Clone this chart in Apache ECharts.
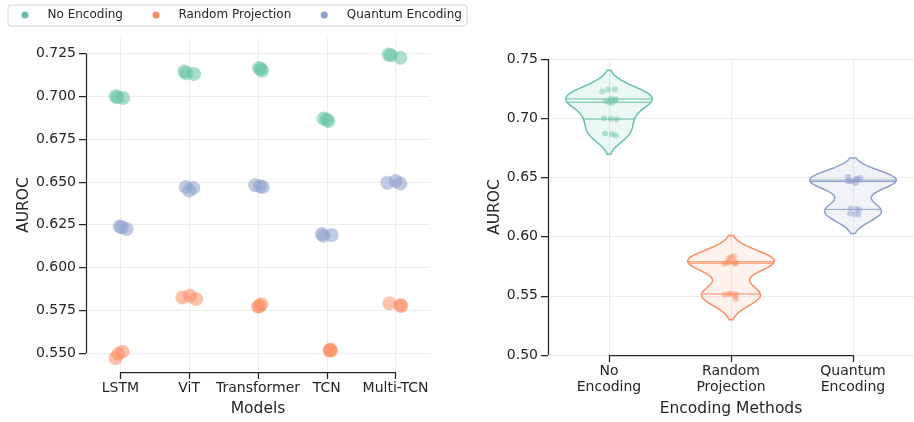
<!DOCTYPE html>
<html><head><meta charset="utf-8">
<script src="https://cdn.jsdelivr.net/npm/echarts@6/dist/echarts.min.js"></script>
<style>html,body{margin:0;padding:0;background:#fff}#c{width:914px;height:422px}</style>
</head><body><div id="c"></div><script>
// ---- data ----
const models = ['LSTM', 'ViT', 'Transformer', 'TCN', 'Multi-TCN'];
const encodings = ['No Encoding', 'Random Projection', 'Quantum Encoding'];
const encodingTickLabels = ['No\nEncoding', 'Random\nProjection', 'Quantum\nEncoding'];
const leftYTicks = [0.55, 0.575, 0.6, 0.625, 0.65, 0.675, 0.7, 0.725];
const rightYTicks = [0.5, 0.55, 0.6, 0.65, 0.7, 0.75];

// AUROC, three runs per model (model order as above)
const noEncoding       = [[0.700, 0.6995, 0.699], [0.7145, 0.7135, 0.713], [0.7165, 0.716, 0.715], [0.687, 0.6865, 0.6855], [0.7245, 0.724, 0.7225]];
const randomProjection = [[0.5508, 0.5495, 0.547], [0.5825, 0.5835, 0.5815], [0.577, 0.5785, 0.5775], [0.552, 0.5515, 0.5515], [0.579, 0.578, 0.5775]];
const quantumEncoding  = [[0.624, 0.6235, 0.6225], [0.647, 0.6465, 0.645], [0.648, 0.6475, 0.647], [0.6195, 0.619, 0.6185], [0.6495, 0.6505, 0.649]];

// horizontal strip jitter (category units)
const noEncodingJitter       = [[-0.07, -0.04, 0.04], [-0.07, -0.04, 0.07], [0.015, 0.04, 0.06], [-0.05, 0.0, 0.02], [-0.1, -0.07, 0.07]];
const randomProjectionJitter = [[0.03, -0.03, -0.07], [-0.1, 0.01, 0.1], [0.0, 0.05, 0.02], [0.05, 0.06, 0.04], [-0.09, 0.07, 0.08]];
const quantumEncodingJitter  = [[-0.01, 0.02, 0.09], [-0.05, 0.06, 0.0], [-0.04, 0.03, 0.07], [-0.07, 0.07, -0.05], [-0.12, 0.0, 0.07]];
const noEncodingViolinJitter       = [-0.04, 0.016, 0.064, -0.024, 0.0, 0.024, 0.016, 0.056, 0.045, -0.032, 0.024, 0.056, 0.048, -0.008, -0.056];
const randomProjectionViolinJitter = [-0.05, 0.03, 0.04, 0.0, 0.025, -0.02, -0.055, -0.015, 0.03, 0.0, 0.04, -0.02, 0.03, -0.035, 0.04];
const quantumEncodingViolinJitter  = [-0.02, 0.03, 0.05, -0.045, -0.01, 0.02, 0.015, 0.04, -0.03, -0.025, 0.015, 0.045, 0.06, -0.04, 0.035];

// ---- styling ----
const FONT = 'DejaVu Sans';
const INK = '#262626';
const GRIDC = '#ececec';
const colors = ['#66c2a5', '#fc8d62', '#8da0cb'];
const groups = [noEncoding, randomProjection, quantumEncoding];
const stripJit = [noEncodingJitter, randomProjectionJitter, quantumEncodingJitter];
const violinJit = [noEncodingViolinJitter, randomProjectionViolinJitter, quantumEncodingViolinJitter];
const LEFT_MIN = 0.5389, LEFT_MAX = 0.7341;
const VIOLIN_HALF = 0.355;

function rgba(hex, a) {
  const n = parseInt(hex.slice(1), 16);
  return 'rgba(' + (n >> 16) + ',' + ((n >> 8) & 255) + ',' + (n & 255) + ',' + a + ')';
}
function leftPoints(g) {
  const out = [];
  groups[g].forEach((runs, m) => runs.forEach((v, k) => out.push([m + stripJit[g][m][k], v])));
  return out;
}
function rightPoints(g) {
  return groups[g].flat().map((v, k) => [g + violinJit[g][k], v]);
}
// gaussian KDE (Scott bandwidth, cut = 2) like seaborn
function kde(vals) {
  const n = vals.length;
  const mean = vals.reduce((a, b) => a + b, 0) / n;
  const sd = Math.sqrt(vals.reduce((a, b) => a + (b - mean) * (b - mean), 0) / (n - 1));
  const bw = sd * Math.pow(n, -0.2);
  const at = y => vals.reduce((s, v) => s + Math.exp(-0.5 * ((y - v) / bw) ** 2), 0) / (n * bw * Math.sqrt(2 * Math.PI));
  const lo = Math.min(...vals) - 2 * bw, hi = Math.max(...vals) + 2 * bw;
  const ys = [], ds = [];
  const G = 100;
  for (let j = 0; j < G; j++) { const y = lo + (hi - lo) * j / (G - 1); ys.push(y); ds.push(at(y)); }
  const s = vals.slice().sort((a, b) => a - b);
  const pct = p => { const pos = (s.length - 1) * p, a = Math.floor(pos), b = Math.ceil(pos); return s[a] + (s[b] - s[a]) * (pos - a); };
  return { ys, ds, at, quarts: [pct(0.25), pct(0.5), pct(0.75)], max: Math.max(...ds) };
}
const kdes = groups.map(g => kde(g.flat()));

const axisLabelStyle = { fontFamily: FONT, fontSize: 14, color: INK };
const nameStyle = { fontFamily: FONT, fontSize: 15.5, color: INK };
const spineStyle = { color: INK, width: 1.25, type: 'solid' };

const series = [];
encodings.forEach((name, g) => {
  series.push({
    name, type: 'scatter', xAxisIndex: 0, yAxisIndex: 0,
    data: leftPoints(g), symbolSize: 14,
    itemStyle: { color: colors[g], opacity: 0.55 }, z: 5
  });
});
// violins
series.push({
  name: 'violins', type: 'custom', xAxisIndex: 1, yAxisIndex: 1, z: 3,
  data: encodings.map((e, i) => [i, kdes[i].quarts[1]]),
  encode: { x: 0, y: 1 },
  renderItem(params, api) {
    const i = params.dataIndex, k = kdes[i];
    const sc = VIOLIN_HALF / k.max;
    const pts = [];
    for (let j = 0; j < k.ys.length; j++) pts.push(api.coord([i + k.ds[j] * sc, k.ys[j]]));
    for (let j = k.ys.length - 1; j >= 0; j--) pts.push(api.coord([i - k.ds[j] * sc, k.ys[j]]));
    const children = [{ type: 'polygon', shape: { points: pts }, style: { fill: rgba(colors[i], 0.12), stroke: colors[i], lineWidth: 1.5 } }];
    k.quarts.forEach(q => {
      const w = k.at(q) * sc;
      const a = api.coord([i - w, q]), b = api.coord([i + w, q]);
      children.push({ type: 'line', shape: { x1: a[0], y1: a[1], x2: b[0], y2: b[1] }, style: { stroke: colors[i], lineWidth: 1 } });
    });
    return { type: 'group', children };
  }
});
encodings.forEach((name, g) => {
  series.push({
    name: name + ' (violin)', type: 'scatter', xAxisIndex: 1, yAxisIndex: 1,
    data: rightPoints(g), symbolSize: 6,
    itemStyle: { color: colors[g], opacity: 0.45 }, z: 6
  });
});
// trimmed spines
function spineSeries(xi, yi, lines) {
  return {
    name: 'spine' + xi, type: 'line', xAxisIndex: xi, yAxisIndex: yi, data: [], silent: true,
    markLine: { silent: true, symbol: ['none', 'none'], label: { show: false }, lineStyle: spineStyle, animation: false,
      data: lines.map(l => [{ coord: l[0] }, { coord: l[1] }]) }
  };
}
series.push(spineSeries(0, 0, [[[-0.5, leftYTicks[0]], [-0.5, leftYTicks[leftYTicks.length - 1]]], [[0, LEFT_MIN], [models.length - 1, LEFT_MIN]]]));
series.push(spineSeries(1, 1, [[[-0.5, rightYTicks[0]], [-0.5, rightYTicks[rightYTicks.length - 1]]], [[0, rightYTicks[0]], [encodings.length - 1, rightYTicks[0]]]]));

const option = {
  animation: false,
  backgroundColor: '#fff',
  textStyle: { fontFamily: FONT },
  legend: {
    data: encodings.map(n => ({ name: n, itemStyle: { opacity: 1 } })),
    left: 8, top: 5, padding: [4, 5, 5, 13.5], itemGap: 29.5,
    itemWidth: 7, itemHeight: 7, icon: 'circle',
    textStyle: { fontFamily: FONT, fontSize: 12, color: INK, padding: [0, 0, 0, 14] },
    borderColor: '#d6d6d6', borderWidth: 1, borderRadius: 3
  },
  grid: [
    { left: 86, top: 38, width: 344, height: 334 },
    { left: 548, top: 59, width: 373.5, height: 297 }
  ],
  xAxis: [
    { type: 'value', gridIndex: 0, min: -0.5, max: models.length - 0.5,
      name: 'Models', nameLocation: 'middle', nameGap: 29, nameTextStyle: nameStyle,
      axisLine: { show: false, onZero: false },
      axisTick: { show: true, length: 7, customValues: models.map((m, i) => i), lineStyle: { color: INK, width: 1.25 } },
      axisLabel: { ...axisLabelStyle, margin: 9, customValues: models.map((m, i) => i), formatter: v => models[Math.round(v)] },
      splitLine: { show: true, lineStyle: { color: GRIDC, width: 1 } } },
    { type: 'value', gridIndex: 1, min: -0.5, max: encodings.length - 0.5,
      name: 'Encoding Methods', nameLocation: 'middle', nameGap: 46, nameTextStyle: nameStyle,
      axisLine: { show: false, onZero: false },
      axisTick: { show: true, length: 7, customValues: encodings.map((m, i) => i), lineStyle: { color: INK, width: 1.25 } },
      axisLabel: { ...axisLabelStyle, margin: 9, lineHeight: 15.5, customValues: encodings.map((m, i) => i), formatter: v => encodingTickLabels[Math.round(v)] },
      splitLine: { show: true, lineStyle: { color: GRIDC, width: 1 } } }
  ],
  yAxis: [
    { type: 'value', gridIndex: 0, min: LEFT_MIN, max: LEFT_MAX,
      name: 'AUROC', nameLocation: 'middle', nameGap: 50, nameTextStyle: nameStyle,
      axisLine: { show: false, onZero: false },
      axisTick: { show: true, length: 7, customValues: leftYTicks, lineStyle: { color: INK, width: 1.25 } },
      axisLabel: { ...axisLabelStyle, margin: 10, customValues: leftYTicks, formatter: v => v.toFixed(3) },
      splitLine: { show: true, lineStyle: { color: GRIDC, width: 1 } } },
    { type: 'value', gridIndex: 1, min: rightYTicks[0], max: rightYTicks[rightYTicks.length - 1],
      name: 'AUROC', nameLocation: 'middle', nameGap: 44, nameTextStyle: nameStyle,
      axisLine: { show: false, onZero: false },
      axisTick: { show: true, length: 7, customValues: rightYTicks, lineStyle: { color: INK, width: 1.25 } },
      axisLabel: { ...axisLabelStyle, margin: 10, customValues: rightYTicks, formatter: v => v.toFixed(2) },
      splitLine: { show: true, lineStyle: { color: GRIDC, width: 1 } } }
  ],
  series
};
const chart = echarts.init(document.getElementById('c'), null, { renderer: 'canvas' });
chart.setOption(option);
</script></body></html>
